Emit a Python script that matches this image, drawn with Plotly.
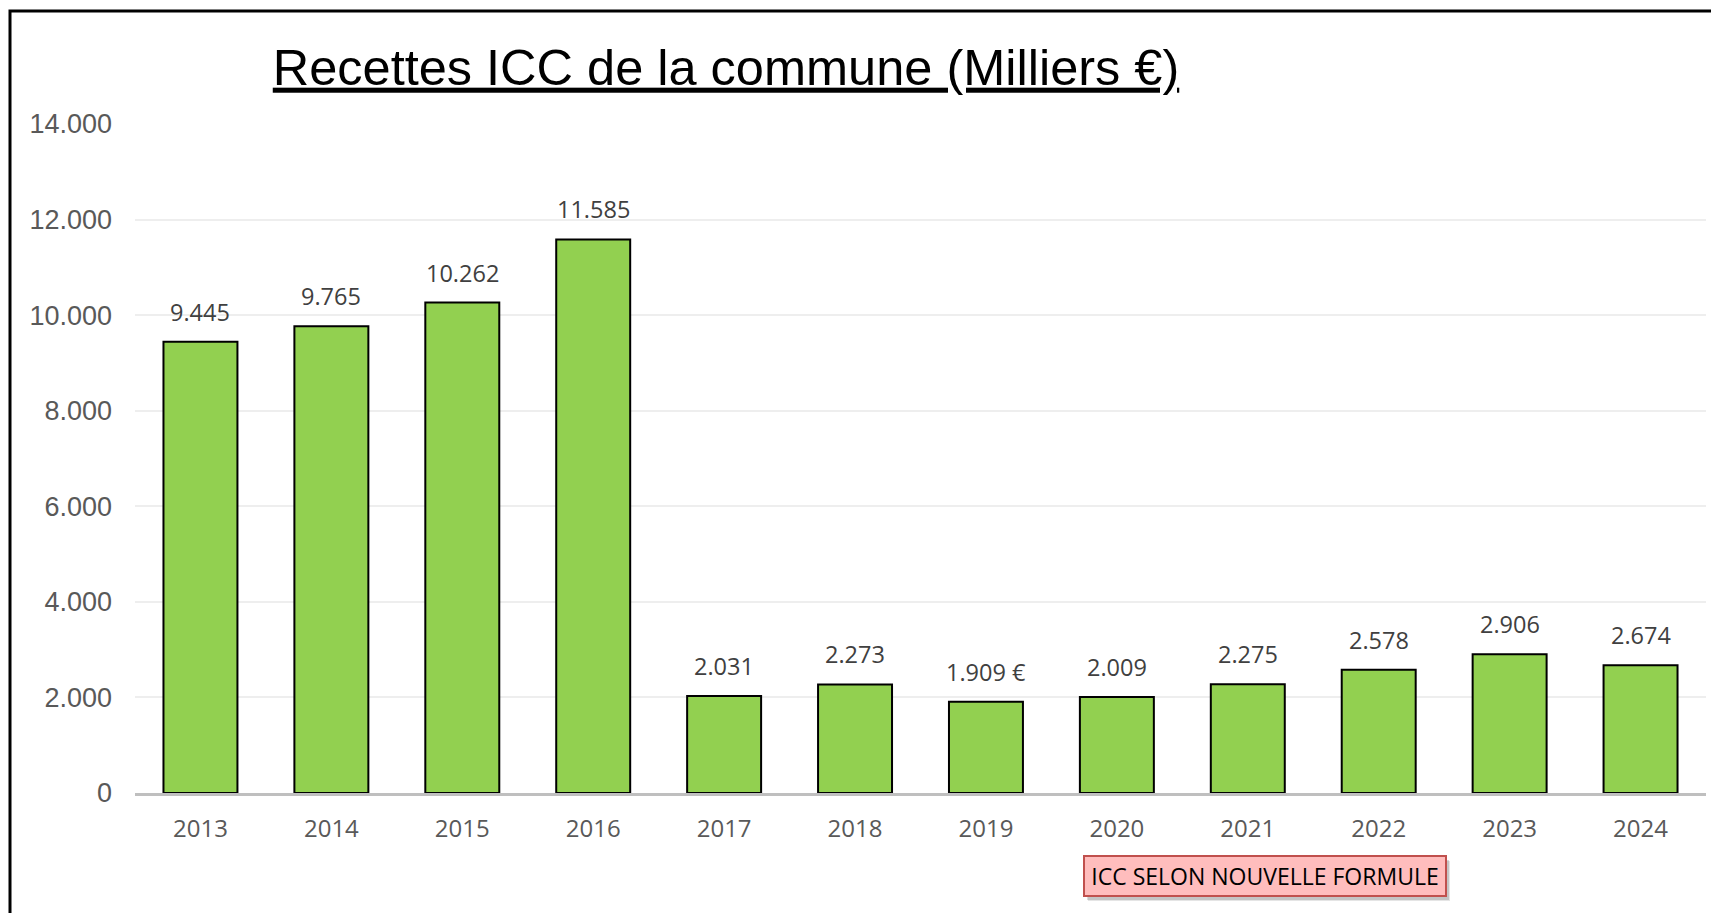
import plotly.graph_objects as go

years = [2013, 2014, 2015, 2016, 2017, 2018, 2019, 2020, 2021, 2022, 2023, 2024]
recettes = [9445, 9765, 10262, 11585, 2031, 2273, 1909, 2009, 2275, 2578, 2906, 2674]
label_suffix = ["", "", "", "", "", "", " €", "", "", "", "", ""]
y_ticks = [0, 2000, 4000, 6000, 8000, 10000, 12000, 14000]
title_text = "Recettes ICC de la commune (Milliers €)"
note_text = "ICC SELON NOUVELLE FORMULE"


def fmt(v):
    return f"{v:,}".replace(",", ".")


labels = [fmt(v) + s for v, s in zip(recettes, label_suffix)]
tick_text = [fmt(t) for t in y_ticks]

# page body has an 8px margin: figure sized/positioned to compensate
W, H = 1711, 905
L, R, T, B = 127, 13, 116, 120

fig = go.Figure()
fig.add_trace(go.Bar(
    x=years, y=recettes,
    marker=dict(color="#92d050", line=dict(color="#000000", width=2)),
    hoverinfo="x+y",
))

annotations = []
for yr, v, lab in zip(years, recettes, labels):
    annotations.append(dict(
        x=yr, y=v, xref="x", yref="y", text=lab, showarrow=False,
        yanchor="bottom", yshift=12,
        font=dict(family="Open Sans", size=23.5, color="#404040"),
    ))

# note box with soft shadow
for dx, dy, a in [(4, -5, 0.10), (3, -4, 0.14)]:
    annotations.append(dict(
        x=0.7193, y=-0.124, xref="paper", yref="paper", text=" ", showarrow=False,
        xanchor="center", yanchor="middle", width=352, height=30, borderpad=4,
        borderwidth=2, bordercolor="rgba(0,0,0,0)", bgcolor=f"rgba(0,0,0,{a})",
        xshift=dx, yshift=dy,
    ))
annotations.append(dict(
    x=0.7193, y=-0.124, xref="paper", yref="paper", text=note_text, showarrow=False,
    xanchor="center", yanchor="middle", width=352, height=30, borderpad=4,
    borderwidth=2, bordercolor="#c0504d", bgcolor="#ffbdbd",
    font=dict(family="Open Sans", size=23, color="#000000"),
))

pw = W - L - R
ph = H - T - B
fig.update_layout(
    width=W, height=H,
    margin=dict(l=L, r=R, t=T, b=B, pad=0),
    paper_bgcolor="white", plot_bgcolor="white",
    showlegend=False,
    bargap=0.435,
    title=dict(
        text="<u>" + title_text + "</u>",
        x=718 / W, xanchor="center", xref="container",
        y=1 - 59 / H, yanchor="middle", yref="container",
        font=dict(family="Liberation Sans", size=50.5, color="#000000"),
    ),
    annotations=annotations,
    shapes=[dict(
        type="rect", xref="paper", yref="paper",
        x0=(2 - L) / pw, x1=(W + 20 - L) / pw,
        y0=-(B + 20) / ph, y1=((H - B) - 3) / ph,
        line=dict(color="#000000", width=3), fillcolor="rgba(0,0,0,0)", layer="above",
    )],
    xaxis=dict(
        type="linear", range=[years[0] - 0.5, years[-1] + 0.5],
        tickmode="array", tickvals=years, ticktext=[str(y) for y in years],
        showline=True, linecolor="#bfbfbf", linewidth=3,
        showgrid=False, zeroline=False, ticks="", ticklabelstandoff=12,
        tickfont=dict(family="Open Sans", size=24, color="#595959"),
    ),
    yaxis=dict(
        range=[0, 14000], tickvals=y_ticks, ticktext=tick_text,
        showgrid=True, gridcolor="#eeeeee", gridwidth=2,
        zeroline=False, showline=False, ticks="", ticklabelstandoff=22,
        tickfont=dict(family="Liberation Sans", size=27, color="#595959"),
    ),
)

fig.write_html("out.html")
